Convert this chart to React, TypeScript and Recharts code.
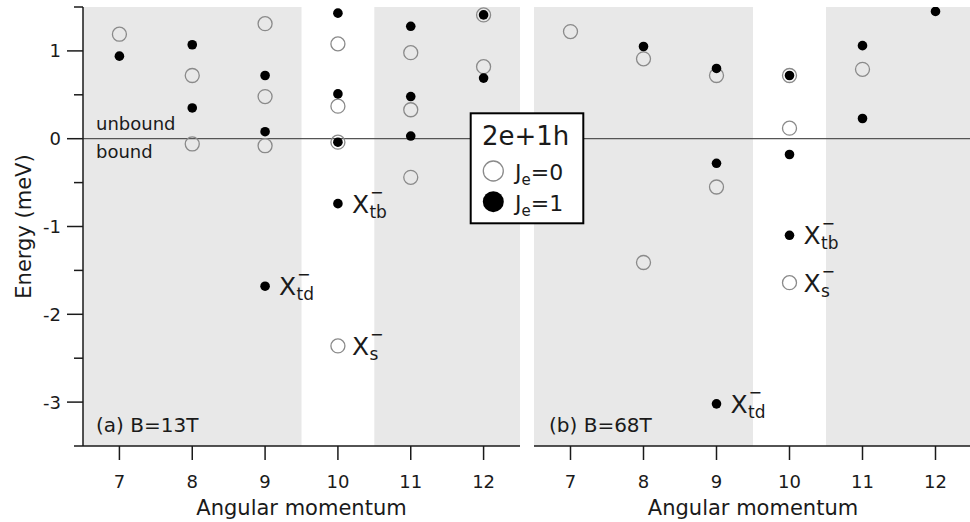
import React from "react";
import {
  Label,
  ReferenceArea,
  ReferenceLine,
  Scatter,
  ScatterChart,
  XAxis,
  YAxis,
} from "recharts";

// angular momentum ticks and energy ticks (meV), minor ones every 0.5
const momentumTicks = [7, 8, 9, 10, 11, 12];
const energyTicks = [-3.5, -3, -2.5, -2, -1.5, -1, -0.5, 0, 0.5, 1, 1.5];

// (a) B=13T
const openA = [
  { x: 7, y: 1.19 }, { x: 8, y: 0.72 }, { x: 8, y: -0.06 },
  { x: 9, y: 1.31 }, { x: 9, y: 0.48 }, { x: 9, y: -0.08 },
  { x: 10, y: 1.08 }, { x: 10, y: 0.37 }, { x: 10, y: -0.04 }, { x: 10, y: -2.36 },
  { x: 11, y: 0.98 }, { x: 11, y: 0.33 }, { x: 11, y: -0.44 },
  { x: 12, y: 1.41 }, { x: 12, y: 0.82 },
];
const filledA = [
  { x: 7, y: 0.94 }, { x: 8, y: 1.07 }, { x: 8, y: 0.35 },
  { x: 9, y: 0.72 }, { x: 9, y: 0.08 }, { x: 9, y: -1.68 },
  { x: 10, y: 1.43 }, { x: 10, y: 0.51 }, { x: 10, y: -0.04 }, { x: 10, y: -0.74 },
  { x: 11, y: 1.28 }, { x: 11, y: 0.48 }, { x: 11, y: 0.03 },
  { x: 12, y: 1.41 }, { x: 12, y: 0.69 },
];
const notesA = [
  { x: 9, y: -1.68, sub: "td" },
  { x: 10, y: -0.74, sub: "tb" },
  { x: 10, y: -2.36, sub: "s" },
];

// (b) B=68T
const openB = [
  { x: 7, y: 1.22 }, { x: 8, y: 0.91 }, { x: 8, y: -1.41 },
  { x: 9, y: 0.72 }, { x: 9, y: -0.55 },
  { x: 10, y: 0.72 }, { x: 10, y: 0.12 }, { x: 10, y: -1.64 },
  { x: 11, y: 0.79 },
];
const filledB = [
  { x: 8, y: 1.05 }, { x: 9, y: 0.8 }, { x: 9, y: -0.28 }, { x: 9, y: -3.02 },
  { x: 10, y: 0.72 }, { x: 10, y: -0.18 }, { x: 10, y: -1.1 },
  { x: 11, y: 1.06 }, { x: 11, y: 0.23 }, { x: 12, y: 1.45 },
];
const notesB = [
  { x: 9, y: -3.02, sub: "td" },
  { x: 10, y: -1.1, sub: "tb" },
  { x: 10, y: -1.64, sub: "s" },
];

const FONT = '"DejaVu Sans", "Liberation Sans", Arial, sans-serif';
const INK = "#1a1a1a";
const SHADE = "#e8e8e8";
const RING = "#8a8a8a";
const DOMAIN_X: [number, number] = [6.5, 12.5];
const DOMAIN_Y: [number, number] = [-3.5, 1.5];

const OpenDot = (p: any) => (
  <circle cx={p.cx} cy={p.cy} r={7} fill="none" stroke={RING} strokeWidth={1.3} />
);

const FilledDot = (p: any) => <circle cx={p.cx} cy={p.cy} r={4.8} fill="#000" />;

// X with subscript and a superscript minus sitting over the subscript
const NoteText = (p: any) => {
  const sx = p.cx + 31.5;
  return (
    <g fontFamily={FONT} fill={INK}>
      <text x={p.cx + 14} y={p.cy + 9} fontSize={25}>
        X
      </text>
      <text x={sx} y={p.cy + 14} fontSize={17}>
        {p.payload.sub}
      </text>
      <text x={sx + 0.5} y={p.cy - 6} fontSize={16}>
        −
      </text>
    </g>
  );
};

const EnergyTick = (p: any) => {
  const v = p.payload.value;
  const major = Number.isInteger(v);
  const edge = p.x + 22; // tickSize + tickMargin
  return (
    <g>
      <line x1={edge - (major ? 16 : 9)} x2={edge} y1={p.y} y2={p.y} stroke={INK} strokeWidth={1.5} />
      {major && (
        <text x={p.x} y={p.y} dy="0.36em" textAnchor="end" fontSize={18} fontFamily={FONT} fill={INK}>
          {v}
        </text>
      )}
    </g>
  );
};

const EnergyTitle = (p: any) => {
  const vb = p.viewBox || {};
  const cy = vb.height ? vb.y + vb.height / 2 : 226.5;
  const cx = 31;
  return (
    <text x={cx} y={cy} transform={`rotate(-90 ${cx} ${cy})`} textAnchor="middle" fontSize={21} fontFamily={FONT} fill={INK}>
      Energy (meV)
    </text>
  );
};

const BoundNote = (p: any) => {
  const vb = p.viewBox || {};
  return (
    <g fontFamily={FONT} fontSize={18} fill={INK}>
      <text x={vb.x + 13} y={vb.y - 9}>unbound</text>
      <text x={vb.x + 13} y={vb.y + 19}>bound</text>
    </g>
  );
};

interface PanelProps {
  open: { x: number; y: number }[];
  filled: { x: number; y: number }[];
  notes: { x: number; y: number; sub: string }[];
  first?: boolean;
}

function Panel({ open, filled, notes, first }: PanelProps) {
  const frame = { stroke: INK, strokeWidth: 1.5 };
  return (
    <ScatterChart
      width={first ? 530 : 470}
      height={522}
      margin={first ? { top: 7, right: 10, bottom: 0, left: 0 } : { top: 7, right: 18, bottom: 0, left: 14 }}
    >
      <XAxis
        xAxisId="top"
        orientation="top"
        type="number"
        dataKey="x"
        domain={DOMAIN_X}
        height={0}
        tick={false}
        tickLine={false}
        axisLine={frame}
      />
      <XAxis
        type="number"
        dataKey="x"
        domain={DOMAIN_X}
        ticks={momentumTicks}
        interval={0}
        allowDataOverflow
        height={76}
        tickSize={14}
        tickMargin={15}
        tickLine={frame}
        axisLine={frame}
        tick={{ fill: INK, fontSize: 18, fontFamily: FONT }}
      >
        <Label
          value="Angular momentum"
          position="insideBottom"
          offset={7}
          style={{ fontSize: 21, fill: INK, fontFamily: FONT }}
        />
      </XAxis>
      {first ? (
        <YAxis
          type="number"
          dataKey="y"
          domain={DOMAIN_Y}
          ticks={energyTicks}
          interval={0}
          allowDataOverflow
          width={83}
          tickSize={16}
          tickMargin={6}
          tickLine={false}
          axisLine={frame}
          tick={<EnergyTick />}
        >
          <Label content={<EnergyTitle />} />
        </YAxis>
      ) : (
        <YAxis
          type="number"
          dataKey="y"
          domain={DOMAIN_Y}
          allowDataOverflow
          width={0}
          tick={false}
          tickLine={false}
          axisLine={frame}
        />
      )}
      {first && (
        <YAxis
          yAxisId="right"
          orientation="right"
          type="number"
          domain={DOMAIN_Y}
          width={0}
          tick={false}
          tickLine={false}
          axisLine={frame}
        />
      )}
      <ReferenceArea x1={6.5} x2={9.5} fill={SHADE} fillOpacity={1} stroke="none" />
      <ReferenceArea x1={10.5} x2={12.5} fill={SHADE} fillOpacity={1} stroke="none" />
      <ReferenceLine
        y={0}
        stroke="#555"
        strokeWidth={1.2}
        label={first ? <BoundNote /> : undefined}
      />
      <Scatter data={open} shape={OpenDot} isAnimationActive={false} />
      <Scatter data={filled} shape={FilledDot} isAnimationActive={false} />
      <Scatter data={notes} shape={NoteText} isAnimationActive={false} />
    </ScatterChart>
  );
}

export default function App() {
  return (
    <div
      style={{
        position: "absolute",
        left: 0,
        top: 0,
        width: 970,
        height: 522,
        overflow: "hidden",
        background: "#fff",
        fontFamily: FONT,
      }}
    >
      <div style={{ position: "absolute", left: 0, top: 0 }}>
        <Panel open={openA} filled={filledA} notes={notesA} first />
      </div>
      <div style={{ position: "absolute", left: 520, top: 0 }}>
        <Panel open={openB} filled={filledB} notes={notesB} />
      </div>
      <svg
        width={970}
        height={522}
        style={{ position: "absolute", left: 0, top: 0, pointerEvents: "none" }}
        fontFamily={FONT}
      >
        <text x={96} y={432} fontSize={20} fill={INK}>(a) B=13T</text>
        <text x={549} y={432} fontSize={20} fill={INK}>(b) B=68T</text>
        <rect x={470.7} y={113.3} width={112.6} height={110} fill="#fff" stroke="#000" strokeWidth={2} />
        <text x={482} y={145} fontSize={26} fill={INK}>2e+1h</text>
        <circle cx={493.3} cy={171} r={10} fill="none" stroke={RING} strokeWidth={1.3} />
        <circle cx={493.3} cy={201.7} r={10.5} fill="#000" />
        <text x={515} y={180} fontSize={22} fill={INK}>
          J<tspan fontSize={15} dy={5}>e</tspan><tspan dy={-5}>=0</tspan>
        </text>
        <text x={515} y={211} fontSize={22} fill={INK}>
          J<tspan fontSize={15} dy={5}>e</tspan><tspan dy={-5}>=1</tspan>
        </text>
      </svg>
    </div>
  );
}
